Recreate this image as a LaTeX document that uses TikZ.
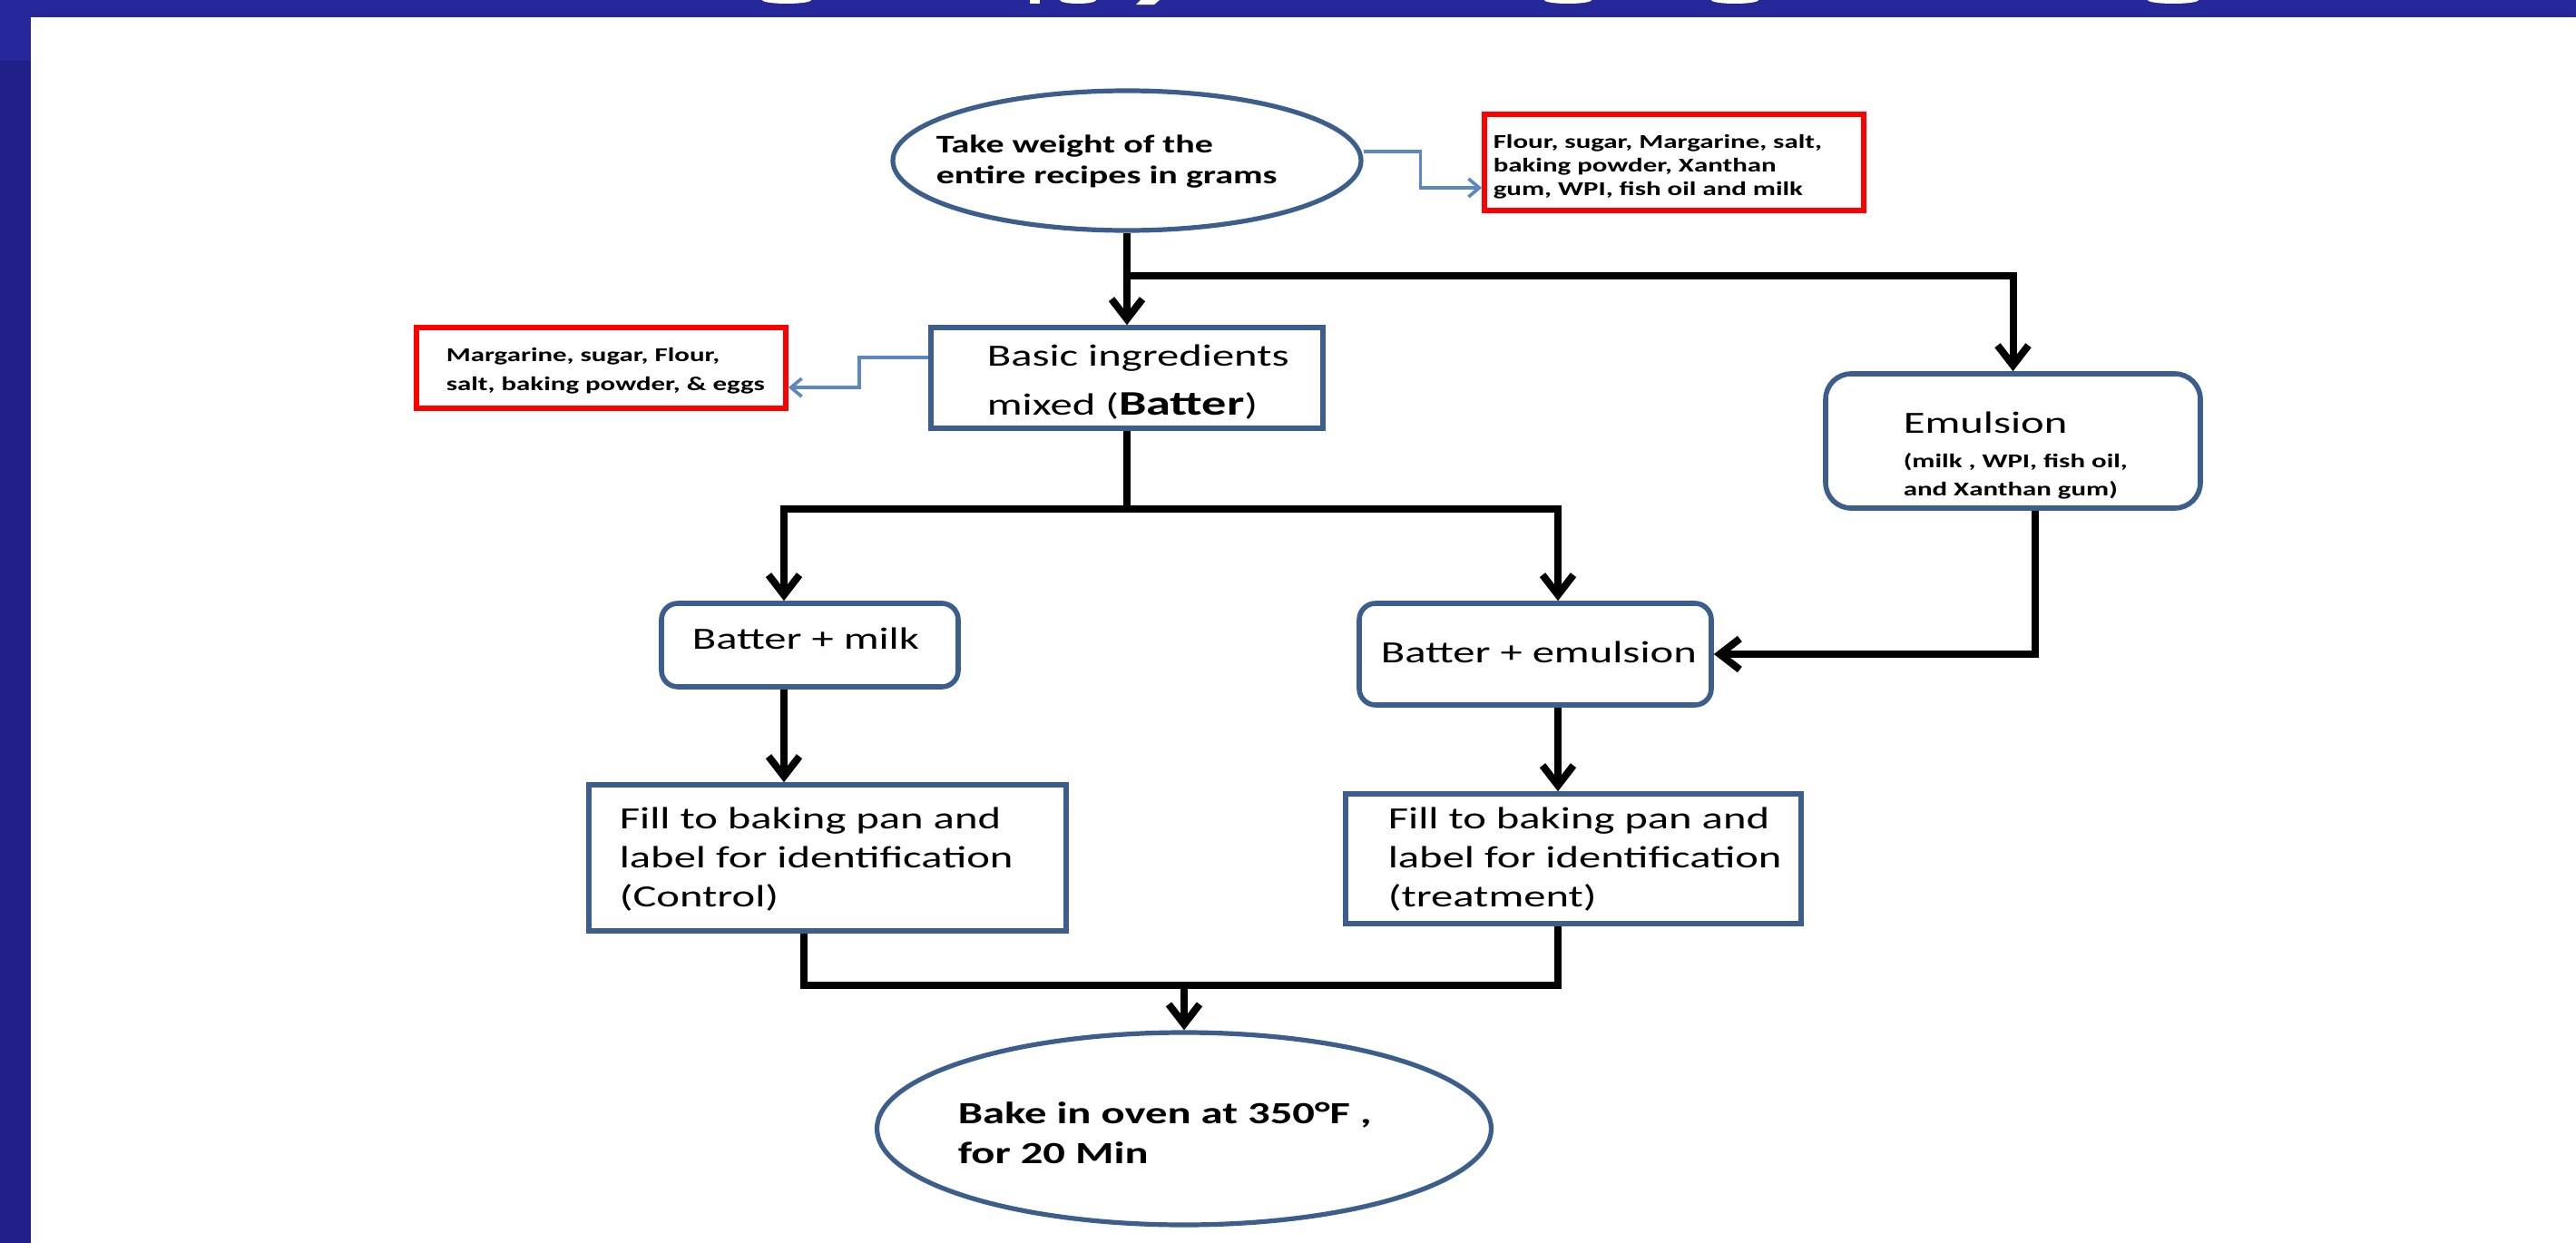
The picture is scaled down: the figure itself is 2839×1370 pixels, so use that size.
\documentclass[tikz,border=0pt]{standalone}
\usepackage{fontspec}
\setmainfont{Carlito}
\usepackage{graphicx}
\usetikzlibrary{arrows.meta,shapes.geometric}
\definecolor{boxblue}{HTML}{3B5E8C}
\definecolor{lineblue}{HTML}{5B87C2}
\definecolor{bandblue}{HTML}{26289A}
\definecolor{stripeblue}{HTML}{21208A}
\newcommand{\sx}[1]{\scalebox{1.43}[1]{#1}}
\begin{document}
\begin{tikzpicture}[x=0.25pt,y=-0.25pt,
  boxb/.style={draw=boxblue, line width=1.4pt, rectangle, inner sep=0pt},
  redbox/.style={draw=red, line width=1.4pt, rectangle, inner sep=0pt},
  ell/.style={draw=boxblue, ellipse, line width=1.3pt, inner sep=0pt},
  blk/.style={line width=2pt, draw=black},
  blkarr/.style={blk, -{Straight Barb[length=5.5pt,width=8.5pt]}},
  bluecon/.style={draw=lineblue, line width=0.9pt, -{Straight Barb[length=3pt,width=5pt]}},
  txt/.style={anchor=base west, inner sep=0pt}]
\useasboundingbox (0,0) rectangle (2839,1370);
\fill[white] (0,0) rectangle (2839,1370);
% frame of the slide
\fill[bandblue] (0,0) rectangle (2839,19);
\fill[bandblue] (0,19) rectangle (34,67);
\fill[stripeblue] (0,67) rectangle (34,1370);
% bottoms of the cut-off title letters
\foreach \cx/\w in {867/27, 1188/20, 1728/26, 1912/26, 2395/28}
  \fill[white] (\cx,0) ellipse [x radius=\w, y radius=4];
\fill[white] (1135,0) rectangle (1146,4);
\fill[white] (1257,0) -- (1278,0) -- (1272,5) -- (1252,5) -- cycle;

% shapes
\node[ell, minimum width=129pt, minimum height=38.5pt] (E1) at (1242,177) {};
\node[redbox, minimum width=104.5pt, minimum height=26.5pt] (R1) at (1845,179) {};
\node[boxb, minimum width=108pt, minimum height=27.75pt] (B2) at (1242,416.5) {};
\node[redbox, minimum width=101.75pt, minimum height=22.25pt] (R2) at (662.5,405.5) {};
\node[boxb, rounded corners=7pt, minimum width=103.25pt, minimum height=37pt] (EM) at (2218.5,486) {};
\node[boxb, rounded corners=4.5pt, minimum width=81.75pt, minimum height=23pt] (BM) at (892.5,711) {};
\node[boxb, rounded corners=4.5pt, minimum width=97pt, minimum height=28pt] (BE) at (1692,721) {};
\node[boxb, minimum width=131.5pt, minimum height=40.25pt] (CT) at (912,945.5) {};
\node[boxb, minimum width=125.5pt, minimum height=35.75pt] (TR) at (1734,946.5) {};
\node[ell, minimum width=169.25pt, minimum height=53pt] (BK) at (1305,1244) {};

% texts
\node[txt] (t1) at (1031,168) {\sx{\fontsize{7pt}{8.5pt}\selectfont\bfseries\begin{tabular}[t]{@{}l@{}}Take weight of the\\entire recipes in grams\end{tabular}}};
\node[txt] (t2) at (1645,163) {\sx{\fontsize{5.4pt}{6.6pt}\selectfont\bfseries\begin{tabular}[t]{@{}l@{}}Flour, sugar, Margarine, salt,\\baking powder, Xanthan\\gum, WPI, fish oil and milk\end{tabular}}};
\node[txt] (t3) at (1087,403) {\sx{\fontsize{8.5pt}{13.5pt}\selectfont\begin{tabular}[t]{@{}l@{}}Basic ingredients\\mixed (\textbf{\fontsize{9.5pt}{13.5pt}\selectfont Batter})\end{tabular}}};
\node[txt] (t4) at (491,398) {\sx{\fontsize{5.4pt}{8pt}\selectfont\bfseries\begin{tabular}[t]{@{}l@{}}Margarine, sugar, Flour,\\salt, baking powder, \& eggs\end{tabular}}};
\node[txt] (t5) at (2097,477) {\sx{\fontsize{8.5pt}{10pt}\selectfont Emulsion}};
\node[txt] (t6) at (2097,515) {\sx{\fontsize{5.4pt}{7.75pt}\selectfont\bfseries\begin{tabular}[t]{@{}l@{}}(milk , WPI, fish oil,\\and Xanthan gum)\end{tabular}}};
\node[txt] (t7) at (762,715) {\sx{\fontsize{8.5pt}{10pt}\selectfont Batter + milk}};
\node[txt] (t8) at (1521,730) {\sx{\fontsize{8.5pt}{10pt}\selectfont Batter + emulsion}};
\node[txt] (t9) at (682,913) {\sx{\fontsize{8.5pt}{10.75pt}\selectfont\begin{tabular}[t]{@{}l@{}}Fill to baking pan and\\label for identification\\(Control)\end{tabular}}};
\node[txt] (t10) at (1529,913) {\sx{\fontsize{8.5pt}{10.75pt}\selectfont\begin{tabular}[t]{@{}l@{}}Fill to baking pan and\\label for identification\\(treatment)\end{tabular}}};
\node[txt] (t11) at (1055,1238) {\sx{\fontsize{8.5pt}{11pt}\selectfont\bfseries\begin{tabular}[t]{@{}l@{}}Bake in oven at 350°F ,\\for 20 Min\end{tabular}}};

% blue side connectors
\draw[bluecon] ([yshift=2.5pt]E1.east) -- ++(63,0) |- ([yshift=-7pt]R1.west);
\draw[bluecon] ([yshift=5.6pt]B2.west) -- ++(-76,0) |- ([yshift=-5.4pt]R2.east);

% main flow
\coordinate (j1) at (1242,304);
\coordinate (j2) at (1242,561);
\coordinate (j2l) at (864,561);
\coordinate (j2r) at (1717,561);
\coordinate (j3l) at (886,1086);
\coordinate (j3r) at (1717,1086);
\draw[blkarr] (E1.south) -- (B2.north);
\draw[blkarr] (j1) -| (EM.north);
\draw[blk] (B2.south) -- (j2);
\draw[blk, line cap=rect] (j2l) -- (j2r);
\draw[blkarr] (j2l) -- (j2l |- BM.north);
\draw[blkarr] (j2r) -- (j2r |- BE.north);
\draw[blkarr] ([xshift=6.1pt]EM.south) |- (BE.east);
\draw[blkarr] (BM.south -| j2l) -- (j2l |- CT.north);
\draw[blkarr] (BE.south -| j2r) -- (j2r |- TR.north);
\draw[blk] (CT.south -| j3l) |- (j3r) -- (TR.south -| j3r);
\draw[blkarr] (j3l -| BK.north) -- (BK.north);
\end{tikzpicture}
\end{document}
